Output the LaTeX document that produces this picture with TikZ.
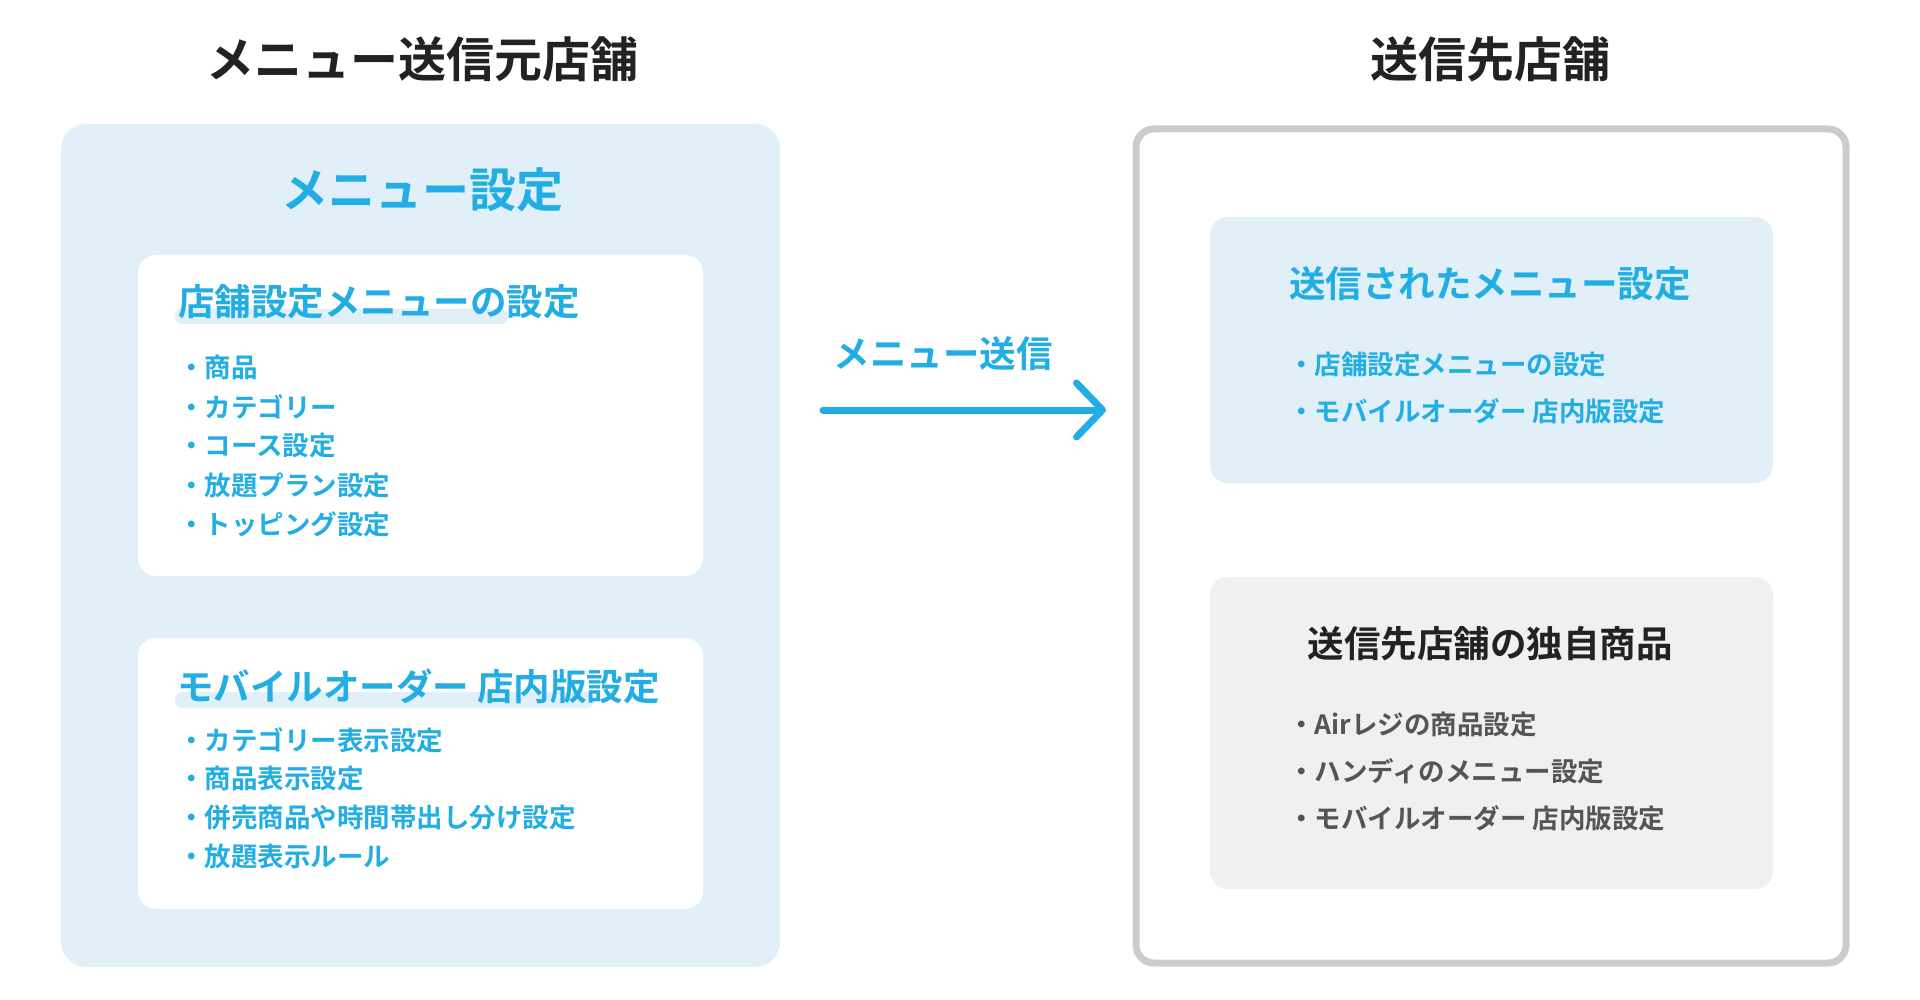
\documentclass[tikz,border=0pt]{standalone}
\usepackage{fontspec}
\setmainfont{Noto Sans CJK JP}[BoldFont={* Bold}]
\usetikzlibrary{arrows.meta}

\begin{document}
\begin{tikzpicture}[
    x=1pt, y=-1pt,
    line join=round,
    line cap=round,
    title/.style={font=\fontsize{48}{50}\selectfont\bfseries, text=titlecolor, inner sep=0pt},
    bigblue/.style={font=\fontsize{47}{50}\selectfont\bfseries, text=textblue, inner sep=0pt},
    headblue/.style={font=\fontsize{36.5}{40}\selectfont\bfseries, text=textblue, inner sep=0pt},
    headdark/.style={font=\fontsize{36.5}{40}\selectfont\bfseries, text=titlecolor, inner sep=0pt},
    itemblue/.style={font=\fontsize{26.5}{30}\selectfont\bfseries, text=textblue, anchor=west, inner sep=0pt},
    itemgray/.style={font=\fontsize{26.5}{30}\selectfont\bfseries, text=textgray, anchor=west, inner sep=0pt},
    sendarrow/.style={line width=7pt, draw=textblue, -{Straight Barb[length=26pt,width=54pt,round]}}
]

% ========= Colors =========
\definecolor{titlecolor}{RGB}{34,34,34}
\definecolor{textblue}{RGB}{34,174,228}
\definecolor{panelblue}{RGB}{225,239,248}
\definecolor{bordergray}{RGB}{204,204,204}
\definecolor{panelgray}{RGB}{240,240,240}
\definecolor{textgray}{RGB}{85,85,85}

\useasboundingbox (0,0) rectangle (1920,1000);

% ========= Left: source store =========
\node[title] (srctitle) at (422,59) {メニュー送信元店舗};
\fill[panelblue, rounded corners=25pt] (61,124) rectangle (780,967);
\node[bigblue] (menuset) at (422,190) {メニュー設定};

% store menu settings
\fill[white, rounded corners=18pt] (138,255) rectangle (703,576);
\fill[panelblue, rounded corners=7pt] (175,309) rectangle (508,324);
\node[headblue, anchor=west] (shophead) at (178,302) {店舗設定メニューの設定};
\foreach \y/\txt in {367/商品,407/カテゴリー,446/コース設定,485/放題プラン設定,524/トッピング設定}
{
    \node[itemblue] (shopitem\y) at (178,\y) {・\txt};
}

% mobile order settings
\fill[white, rounded corners=18pt] (138,638) rectangle (703,909);
\fill[panelblue, rounded corners=7pt] (175,692) rectangle (594,708);
\node[headblue, anchor=west] (mobilehead) at (177,686) {モバイルオーダー 店内版設定};
\foreach \y/\txt in {740/カテゴリー表示設定,779/商品表示設定,818/併売商品や時間帯出し分け設定,857/放題表示ルール}
{
    \node[itemblue] (mobileitem\y) at (178,\y) {・\txt};
}

% ========= Arrow =========
\node[headblue] (sendlabel) at (943,354) {メニュー送信};
\coordinate (sendfrom) at (823,410);
\coordinate (sendto) at (1106,410);
\draw[sendarrow] (sendfrom) -- (sendto);

% ========= Right: destination store =========
\node[title] (dsttitle) at (1490,59) {送信先店舗};
\draw[line width=7pt, draw=bordergray, fill=white, rounded corners=18pt] (1136,129) rectangle (1846,963);

% sent menu settings
\fill[panelblue, rounded corners=18pt] (1210,217) rectangle (1773,483);
\node[headblue] (senthead) at (1490,284) {送信されたメニュー設定};
\foreach \y/\txt in {365/店舗設定メニューの設定,411/モバイルオーダー 店内版設定}
{
    \node[itemblue] (sentitem\y) at (1288,\y) {・\txt};
}

% own items of destination
\fill[panelgray, rounded corners=18pt] (1210,577) rectangle (1773,889);
\node[headdark] (ownhead) at (1490,644) {送信先店舗の独自商品};
\foreach \y/\txt in {725/Airレジの商品設定,771/ハンディのメニュー設定,818/モバイルオーダー 店内版設定}
{
    \node[itemgray] (ownitem\y) at (1288,\y) {・\txt};
}

\end{tikzpicture}
\end{document}
